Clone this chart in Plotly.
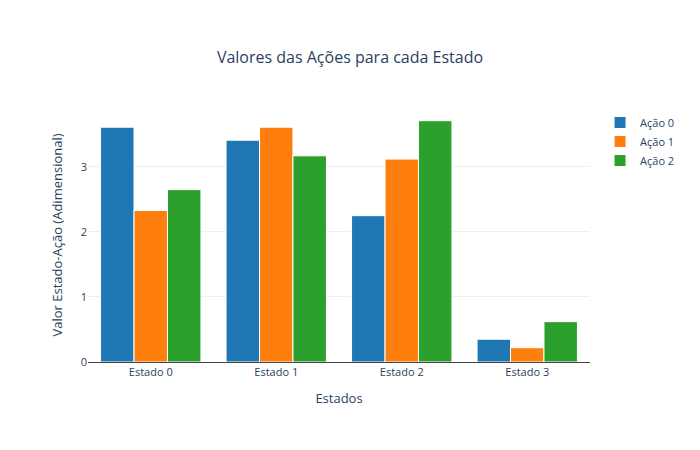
import plotly.graph_objects as go

estados = ["Estado 0", "Estado 1", "Estado 2", "Estado 3"]
acao0 = [3.61, 3.41, 2.25, 0.35]
acao1 = [2.33, 3.61, 3.12, 0.22]
acao2 = [2.65, 3.17, 3.71, 0.62]

fig = go.Figure()
fig.add_trace(go.Bar(x=estados, y=acao0, name="Ação 0", marker=dict(color="#1f77b4", line=dict(color="white", width=1))))
fig.add_trace(go.Bar(x=estados, y=acao1, name="Ação 1", marker=dict(color="#ff7f0e", line=dict(color="white", width=1))))
fig.add_trace(go.Bar(x=estados, y=acao2, name="Ação 2", marker=dict(color="#2ca02c", line=dict(color="white", width=1))))

fig.update_layout(
    template="plotly_white",
    font=dict(size=11),
    title=dict(text="Valores das Ações para cada Estado", x=0.5, y=0.9, font=dict(size=16)),
    xaxis=dict(title="Estados", showline=True, linecolor="#444"),
    yaxis=dict(title="Valor Estado-Ação (Adimensional)", gridcolor="#eee", zeroline=False),
    barmode="group",
    margin=dict(l=80, r=80, t=100, b=80),
)
fig.write_html("out.html")
